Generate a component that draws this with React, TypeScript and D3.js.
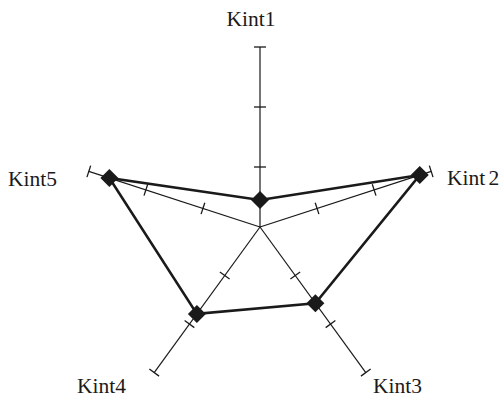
import React from "react";
import * as d3 from "d3";

const axes = ["Kint1", "Kint 2", "Kint3", "Kint4", "Kint5"];
const values = [0.45, 2.8, 1.57, 1.79, 2.64];
const tickValues = [1, 2, 3];

const W = 502;
const H = 398;
const cx = 260;
const cy = 227;

// label placement (layout only)
const labelPos: [number, number, string][] = [
  [251, 26, "middle"],
  [447, 185, "start"],
  [373, 393, "start"],
  [77, 393, "start"],
  [8, 186, "start"],
];

export default function App() {
  const r = d3.scaleLinear().domain([0, 3]).range([0, 180]);
  const angle = (i: number) => ((-90 + 72 * i) * Math.PI) / 180;
  const pt = (i: number, v: number): [number, number] => [
    cx + r(v) * Math.cos(angle(i)),
    cy + r(v) * Math.sin(angle(i)),
  ];
  const poly = d3.line<number>()
    .x((v, i) => pt(i, v)[0])
    .y((v, i) => pt(i, v)[1])
    .curve(d3.curveLinearClosed);
  const diamond = d3.symbol(d3.symbolSquare, 162)();

  return (
    <svg width={W} height={H} style={{ position: "absolute", left: 0, top: 0 }}>
      <rect width={W} height={H} fill="#fff" />
      {axes.map((a, i) => {
        const [x2, y2] = pt(i, 3);
        const ang = angle(i);
        const px = -Math.sin(ang);
        const py = Math.cos(ang);
        return (
          <g key={a}>
            <line x1={cx} y1={cy} x2={x2} y2={y2} stroke="#1a1a1a" strokeWidth={1.2} />
            {tickValues.map((t) => {
              const [tx, ty] = pt(i, t);
              return (
                <line
                  key={t}
                  x1={tx - px * 6}
                  y1={ty - py * 6}
                  x2={tx + px * 6}
                  y2={ty + py * 6}
                  stroke="#1a1a1a"
                  strokeWidth={1.3}
                />
              );
            })}
          </g>
        );
      })}
      <path d={poly(values) || ""} fill="none" stroke="#1a1a1a" strokeWidth={2.6} strokeLinejoin="miter" />
      {values.map((v, i) => {
        const [x, y] = pt(i, v);
        return <path key={i} d={diamond || ""} transform={`translate(${x},${y}) rotate(45)`} fill="#1a1a1a" />;
      })}
      {axes.map((a, i) => (
        <text
          key={a}
          x={labelPos[i][0]}
          y={labelPos[i][1]}
          textAnchor={labelPos[i][2] as any}
          fontFamily="'Liberation Serif', 'Times New Roman', serif"
          fontSize={21.5}
          wordSpacing={-2}
          fill="#1a1a1a"
        >
          {a}
        </text>
      ))}
    </svg>
  );
}
